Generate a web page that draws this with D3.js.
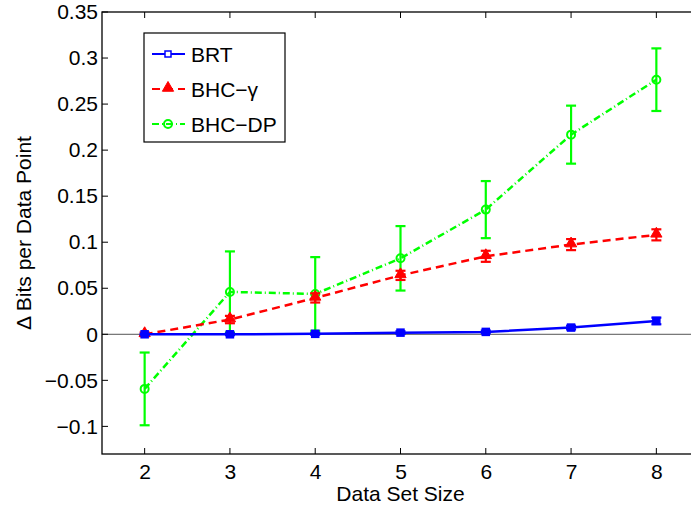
<!DOCTYPE html>
<html>
<head>
<meta charset="utf-8">
<script src="https://cdn.jsdelivr.net/npm/d3@7"></script>
<style>
  body { margin: 0; background: #fff; }
  text { font-family: "Liberation Sans", Arial, sans-serif; fill: #000; }
</style>
</head>
<body>
<div id="chart"></div>
<script>
/* data */
var sizes = [2, 3, 4, 5, 6, 7, 8];
var brt = [0, 0, 0.0005, 0.0018, 0.0026, 0.0073, 0.0145];
var brtErr = [0.0005, 0.001, 0.001, 0.0015, 0.0015, 0.002, 0.0036];
var bhcGamma = [0, 0.016, 0.0395, 0.064, 0.0847, 0.0974, 0.108];
var bhcGammaErr = [0.002, 0.004, 0.005, 0.005, 0.006, 0.006, 0.006];
var bhcDP = [-0.0593, 0.046, 0.0438, 0.0825, 0.1354, 0.2168, 0.2765];
var bhcDPErr = [0.0395, 0.044, 0.04, 0.035, 0.031, 0.0315, 0.034];
var yTicks = [-0.1, -0.05, 0, 0.05, 0.1, 0.15, 0.2, 0.25, 0.3, 0.35];
var seriesNames = ["BRT", "BHC\u2212\u03b3", "BHC\u2212DP"];

var width = 691,
    height = 509;
/* plot box (right edge falls just outside the picture) */
var pLeft = 102, pRight = 699, pTop = 12, pBottom = 454;
var fontSize = "21px";

var svg = d3.select("#chart")
    .append("svg")
    .attr("width", width)
    .attr("height", height);

var x = d3.scaleLinear().domain([1.5, 8.5]).range([pLeft, pRight]);
var y = d3.scaleLinear().domain([-0.13, 0.35]).range([pBottom, pTop]);

/* zero line */
svg.append("line")
    .attr("x1", pLeft).attr("x2", pRight)
    .attr("y1", y(0)).attr("y2", y(0))
    .attr("stroke", "#555").attr("stroke-width", 1);

/* frame */
svg.append("rect")
    .attr("x", pLeft).attr("y", pTop)
    .attr("width", pRight - pLeft).attr("height", pBottom - pTop)
    .attr("fill", "none").attr("stroke", "#000").attr("stroke-width", 1.3);

/* axes, ticks drawn inside separately */
var xAxis = d3.axisBottom(x).tickValues(sizes).tickSize(0).tickPadding(10)
    .tickFormat(d3.format("d"));
svg.append("g")
    .attr("transform", "translate(0," + pBottom + ")")
    .call(xAxis)
    .call(function (g) { g.select(".domain").remove(); })
    .selectAll("text").style("font-size", fontSize).style("font-family", "Liberation Sans, Arial, sans-serif");

var yAxis = d3.axisLeft(y).tickValues(yTicks).tickSize(0).tickPadding(4)
    .tickFormat(function (d) { return String(+d.toFixed(2)).replace("-", "\u2212"); });
svg.append("g")
    .attr("transform", "translate(" + pLeft + ",0)")
    .call(yAxis)
    .call(function (g) { g.select(".domain").remove(); })
    .selectAll("text").style("font-size", fontSize).style("font-family", "Liberation Sans, Arial, sans-serif");

var ticks = svg.append("g").attr("stroke", "#000").attr("stroke-width", 1);
sizes.forEach(function (s) {
    ticks.append("line").attr("x1", x(s)).attr("x2", x(s)).attr("y1", pBottom).attr("y2", pBottom - 6);
    ticks.append("line").attr("x1", x(s)).attr("x2", x(s)).attr("y1", pTop).attr("y2", pTop + 6);
});
yTicks.forEach(function (t) {
    ticks.append("line").attr("x1", pLeft).attr("x2", pLeft + 6).attr("y1", y(t)).attr("y2", y(t));
});

/* axis labels */
svg.append("text")
    .attr("x", (pLeft + pRight) / 2).attr("y", 501)
    .attr("text-anchor", "middle")
    .style("font-size", fontSize)
    .text("Data Set Size");

svg.append("text")
    .attr("transform", "translate(31," + (pTop + pBottom) / 2 + ") rotate(-90)")
    .attr("text-anchor", "middle")
    .style("font-size", fontSize)
    .text("\u0394 Bits per Data Point");

/* series, DP drawn first so BRT sits on top */
var series = [
    { name: seriesNames[2], vals: bhcDP, err: bhcDPErr, color: "#00ff00", dash: "7,3,1,3", marker: "circle" },
    { name: seriesNames[1], vals: bhcGamma, err: bhcGammaErr, color: "#ff0000", dash: "8,5", marker: "triangle" },
    { name: seriesNames[0], vals: brt, err: brtErr, color: "#0000ff", dash: null, marker: "square" }
];

var line = d3.line()
    .x(function (d, i) { return x(sizes[i]); })
    .y(function (d) { return y(d); });

function drawMarker(g, type, cx, cy, color, open) {
    if (type == "circle") {
        g.append("circle").attr("cx", cx).attr("cy", cy).attr("r", 4)
            .attr("fill", "none").attr("stroke", color).attr("stroke-width", 2);
    } else if (type == "triangle") {
        g.append("path")
            .attr("d", d3.symbol().type(d3.symbolTriangle).size(55)())
            .attr("transform", "translate(" + cx + "," + (cy - 1) + ")")
            .attr("fill", color).attr("stroke", color).attr("stroke-width", 1);
    } else {
        var h = open ? 3 : 3.5;
        g.append("rect").attr("x", cx - h).attr("y", cy - h).attr("width", 2 * h).attr("height", 2 * h)
            .attr("fill", open ? "#fff" : color).attr("stroke", color).attr("stroke-width", 1.5);
    }
}

series.forEach(function (s) {
    var g = svg.append("g");
    g.append("path")
        .attr("d", line(s.vals))
        .attr("fill", "none")
        .attr("stroke", s.color)
        .attr("stroke-width", 2.5)
        .attr("stroke-dasharray", s.dash);
    s.vals.forEach(function (v, i) {
        var cx = x(sizes[i]);
        var y1 = y(v + s.err[i]), y2 = y(v - s.err[i]);
        g.append("line").attr("x1", cx).attr("x2", cx).attr("y1", y1).attr("y2", y2)
            .attr("stroke", s.color).attr("stroke-width", 2.2);
        g.append("line").attr("x1", cx - 5).attr("x2", cx + 5).attr("y1", y1).attr("y2", y1)
            .attr("stroke", s.color).attr("stroke-width", 2.2);
        g.append("line").attr("x1", cx - 5).attr("x2", cx + 5).attr("y1", y2).attr("y2", y2)
            .attr("stroke", s.color).attr("stroke-width", 2.2);
        drawMarker(g, s.marker, cx, y(v), s.color, false);
    });
});

/* legend */
var legend = svg.append("g");
legend.append("rect")
    .attr("x", 144).attr("y", 33).attr("width", 141).attr("height", 109)
    .attr("fill", "#fff").attr("stroke", "#000").attr("stroke-width", 1.2);

var legendOrder = [series[2], series[1], series[0]];
legendOrder.forEach(function (s, i) {
    var ly = 54 + i * 35;
    legend.append("line")
        .attr("x1", 152).attr("x2", 185).attr("y1", ly).attr("y2", ly)
        .attr("stroke", s.color).attr("stroke-width", 2)
        .attr("stroke-dasharray", s.dash);
    drawMarker(legend, s.marker, 168, ly, s.color, true);
    legend.append("text")
        .attr("x", 191).attr("y", ly + 7.5)
        .style("font-size", fontSize)
        .text(s.name);
});
</script>
</body>
</html>
